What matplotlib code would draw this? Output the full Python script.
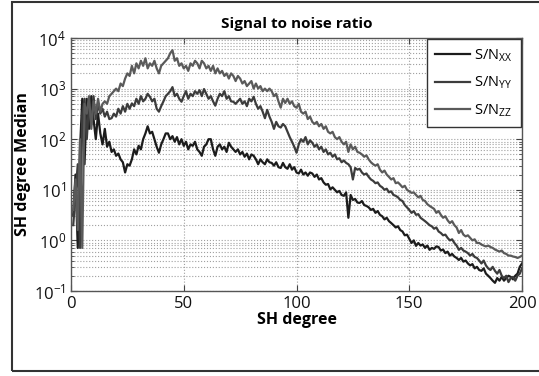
import matplotlib
matplotlib.use("Agg")
import matplotlib.pyplot as plt
from matplotlib.patches import Rectangle
from matplotlib.ticker import LogLocator, NullFormatter
import numpy as np

plt.rcParams['font.family'] = ['Open Sans', 'DejaVu Sans']
plt.rcParams['mathtext.default'] = 'regular'

# SH degrees 1..200
degree = list(range(1, 201))

# S/N XX (bottom curve)
sn_xx = [3.2, 20, 0.71, 63, 630, 32, 630, 160, 710, 250,
         100, 320, 130, 79, 160, 71, 89, 56, 63, 47,
         52, 40, 35, 22, 32, 30, 40, 63, 50, 74,
         63, 100, 130, 180, 130, 140, 100, 71, 54, 79,
         100, 130, 130, 100, 115, 89, 110, 79, 100, 74,
         89, 63, 79, 74, 89, 63, 56, 47, 71, 79,
         100, 100, 63, 47, 71, 79, 63, 71, 56, 85,
         71, 63, 56, 63, 50, 56, 45, 52, 40, 50,
         47, 40, 32, 40, 35, 32, 40, 35, 34, 30,
         35, 28, 27, 34, 28, 26, 32, 25, 28, 22,
         21, 25, 20, 22, 19, 22, 21, 18, 20, 16,
         17, 14, 12.6, 13, 10.2, 11.2, 10, 8.9, 9.5, 7.9,
         7.6, 8.9, 2.8, 7.9, 6.3, 6.6, 5.6, 5.5, 6.0, 5.0,
         4.8, 4.5, 4.0, 4.2, 3.5, 3.8, 3.2, 3.0, 2.6, 2.8,
         2.4, 2.2, 2.0, 1.8, 1.9, 1.6, 1.5, 1.26, 1.3, 1.07,
         0.89, 1.0, 0.78, 0.89, 0.79, 0.83, 0.71, 0.79, 0.65, 0.71,
         0.68, 0.76, 0.74, 0.63, 0.66, 0.56, 0.60, 0.50, 0.54, 0.48,
         0.45, 0.41, 0.45, 0.38, 0.40, 0.35, 0.32, 0.34, 0.28, 0.30,
         0.26, 0.25, 0.28, 0.22, 0.20, 0.18, 0.16, 0.145, 0.18, 0.16,
         0.19, 0.16, 0.18, 0.20, 0.19, 0.17, 0.20, 0.22, 0.30, 0.35]

# S/N YY (middle curve)
sn_yy = [2.0, 7.9, 32, 0.71, 320, 630, 100, 500, 200, 710,
         250, 500, 320, 400, 280, 350, 250, 260, 320, 280,
         400, 320, 450, 350, 500, 400, 510, 450, 630, 500,
         710, 560, 630, 790, 690, 560, 630, 400, 350, 450,
         560, 710, 790, 890, 1070, 710, 790, 630, 550, 710,
         890, 630, 790, 710, 890, 790, 930, 710, 980, 790,
         630, 710, 560, 460, 630, 790, 710, 890, 630, 710,
         560, 550, 500, 560, 630, 500, 560, 450, 630, 560,
         690, 500, 400, 450, 350, 260, 380, 280, 220, 160,
         220, 180, 170, 200, 180, 140, 110, 89, 71, 54,
         79, 100, 89, 110, 79, 95, 85, 71, 79, 63,
         71, 56, 63, 50, 54, 45, 50, 40, 42, 35,
         38, 34, 32, 28, 16, 27, 25, 26, 22, 20,
         21, 18, 16, 15, 13.5, 14, 12, 11.2, 10, 10.5,
         8.9, 9.3, 7.9, 7.6, 7.1, 6.3, 6.0, 5.0, 4.5, 4.0,
         3.5, 3.8, 3.2, 3.3, 2.8, 2.6, 2.4, 2.2, 2.0, 1.9,
         1.7, 1.8, 1.5, 1.4, 1.26, 1.3, 1.12, 1.0, 1.05, 0.89,
         0.79, 0.65, 0.71, 0.63, 0.60, 0.56, 0.50, 0.54, 0.47, 0.45,
         0.40, 0.35, 0.40, 0.32, 0.28, 0.26, 0.30, 0.25, 0.22, 0.26,
         0.20, 0.18, 0.20, 0.15, 0.18, 0.19, 0.16, 0.20, 0.22, 0.28]

# S/N ZZ (top curve)
sn_zz = [4.0, 16, 1.6, 100, 0.71, 500, 320, 710, 160, 560,
         320, 630, 350, 500, 560, 500, 710, 790, 890, 1000,
         890, 1260, 1120, 1580, 2000, 1780, 2820, 2000, 3160, 2510,
         3550, 2820, 3980, 2510, 3160, 2820, 3550, 2510, 2000, 2820,
         3160, 3550, 3980, 5010, 5750, 3550, 3980, 2820, 3160, 2510,
         2820, 2240, 3160, 2820, 3550, 3160, 2510, 3550, 3160, 2510,
         2820, 2240, 2820, 2000, 2510, 2000, 2240, 1780, 2000, 1580,
         2000, 1780, 1410, 1780, 1580, 1260, 1410, 1120, 1260, 1410,
         1000, 1260, 1000, 1120, 890, 1000, 890, 1000, 890, 710,
         790, 560, 420, 630, 520, 630, 500, 560, 450, 420,
         500, 350, 320, 350, 250, 280, 220, 200, 220, 180,
         200, 160, 180, 140, 130, 140, 110, 100, 110, 89,
         79, 89, 56, 79, 63, 71, 56, 54, 50, 45,
         48, 40, 35, 32, 30, 32, 25, 22, 24, 20,
         18, 16, 17, 13.5, 14, 12.6, 11.2, 12, 10, 9.3,
         8.7, 8.9, 7.9, 7.1, 7.6, 6.3, 6.0, 5.2, 4.8, 4.5,
         4.2, 3.5, 3.8, 3.2, 2.8, 3.0, 2.5, 2.2, 2.4, 2.0,
         1.8, 1.4, 1.6, 1.3, 1.2, 1.26, 1.12, 1.0, 1.05, 0.89,
         0.89, 0.83, 0.79, 0.76, 0.79, 0.74, 0.71, 0.66, 0.63, 0.60,
         0.63, 0.56, 0.54, 0.50, 0.50, 0.48, 0.47, 0.45, 0.47, 0.50]

labels = ['S/N$_{XX}$', 'S/N$_{YY}$', 'S/N$_{ZZ}$']
colors = ['#1c1c1c', '#3c3c3c', '#5a5a5a']

fig = plt.figure(figsize=(5.39, 3.76), dpi=100)
ax = fig.add_axes([0.1317, 0.2261, 0.8368, 0.6728])

for y, lab, c in zip([sn_xx, sn_yy, sn_zz], labels, colors):
    ax.plot(degree, y, color=c, lw=1.6, label=lab)

ax.set_yscale('log')
ax.set_xlim(0, 200)
ax.set_ylim(1e-1, 1e4)
ax.set_xticks([0, 50, 100, 150, 200])
ax.yaxis.set_major_locator(LogLocator(base=10, numticks=10))
ax.yaxis.set_minor_locator(LogLocator(base=10, subs=np.arange(2, 10), numticks=10))
ax.yaxis.set_minor_formatter(NullFormatter())

ax.grid(True, which='major', ls=':', color='#a0a0a0', lw=0.8)
ax.grid(True, which='minor', axis='y', ls=':', color='#a0a0a0', lw=0.8)
ax.tick_params(which='both', direction='in', top=True, right=True, colors='#444444',
               labelcolor='#111111', labelsize=12)
ax.tick_params(which='major', length=4)
ax.tick_params(which='minor', length=2)
for s in ax.spines.values():
    s.set_color('#555555')
    s.set_linewidth(1.0)

ax.set_title('Signal to noise ratio', fontsize=11, fontweight='bold', pad=7)
ax.set_xlabel('SH degree', fontsize=11.5, fontweight='bold', labelpad=0)
ax.set_ylabel('SH degree Median', fontsize=11.5, fontweight='bold', labelpad=2)

leg = ax.legend(loc='upper right', fontsize=10.5, fancybox=False, framealpha=1,
                edgecolor='#333333', handlelength=2.4, borderaxespad=0.1,
                labelspacing=0.75, handletextpad=0.3, borderpad=0.55)
leg.get_frame().set_linewidth(1.0)

# outer frame of the figure
fig.add_artist(Rectangle((12 / 539, 1 - 371 / 376), 1.0, (369 / 376),
                         transform=fig.transFigure, fill=False,
                         edgecolor='#333333', lw=1.5, clip_on=False))

fig.savefig('out.png', dpi=100)
